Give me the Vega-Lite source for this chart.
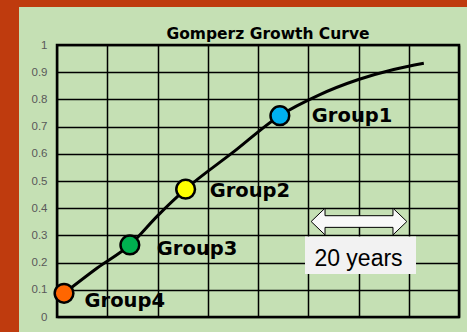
{
  "$schema": "https://vega.github.io/schema/vega-lite/v6.json",
  "width": 402,
  "height": 272,
  "autosize": "none",
  "padding": {"left": 57, "top": 45, "right": 8, "bottom": 15},
  "background": "#c5e0b4",
  "title": {"text": "Gomperz Growth Curve", "font": "DejaVu Sans", "fontSize": 15.5, "fontWeight": "bold", "color": "black", "anchor": "middle", "frame": "group", "dx": 10, "offset": -54, "baseline": "alphabetic"},
  "config": {
    "view": {"stroke": "black", "strokeWidth": 2.5}
  },
  "datasets": {
    "curve": [
      {"x": 1.4, "y": 0.087}, {"x": 8, "y": 0.18}, {"x": 14.5, "y": 0.265}, {"x": 20, "y": 0.372},
      {"x": 25.6, "y": 0.47}, {"x": 35, "y": 0.605}, {"x": 44.4, "y": 0.741}, {"x": 52, "y": 0.815},
      {"x": 60, "y": 0.873}, {"x": 67, "y": 0.91}, {"x": 73, "y": 0.933}
    ],
    "groups": [
      {"group": "Group1", "x": 44.35, "y": 0.74},
      {"group": "Group2", "x": 25.6, "y": 0.47},
      {"group": "Group3", "x": 14.5, "y": 0.265},
      {"group": "Group4", "x": 1.4, "y": 0.087}
    ]
  },
  "layer": [
    {
      "data": {"name": "curve"},
      "mark": {"type": "line", "interpolate": "monotone", "color": "black", "strokeWidth": 3},
      "encoding": {
        "x": {"field": "x", "type": "quantitative", "scale": {"domain": [0, 80], "nice": false, "zero": false},
          "axis": {"title": null, "values": [0, 10, 20, 30, 40, 50, 60, 70, 80], "labels": false, "ticks": false, "domain": false, "grid": true, "gridColor": "black", "gridWidth": 1.5, "gridOpacity": 1}},
        "y": {"field": "y", "type": "quantitative", "scale": {"domain": [0, 1], "nice": false, "zero": false},
          "axis": {"title": null, "values": [0, 0.1, 0.2, 0.3, 0.4, 0.5, 0.6, 0.7, 0.8, 0.9, 1], "format": ".1~f", "ticks": false, "domain": false, "grid": true, "gridColor": "black", "gridWidth": 1.5, "gridOpacity": 1, "labelFont": "Liberation Sans", "labelFontSize": 11.5, "labelColor": "#595959", "labelPadding": 10, "labelOverlap": false}}
      }
    },
    {
      "data": {"values": [{"part": "left"}]},
      "mark": {"type": "rect", "color": "#bf3b0e"},
      "encoding": {
        "x": {"datum": -20, "type": "quantitative", "scale": {"domain": [0, 80], "nice": false, "zero": false},
          "axis": {"title": null, "values": [0, 10, 20, 30, 40, 50, 60, 70, 80], "labels": false, "ticks": false, "domain": false, "grid": true, "gridColor": "black", "gridWidth": 1.5, "gridOpacity": 1}},
        "x2": {"datum": -7.56},
        "y": {"datum": -0.3, "type": "quantitative", "scale": {"domain": [0, 1], "nice": false, "zero": false},
          "axis": {"title": null, "values": [0, 0.1, 0.2, 0.3, 0.4, 0.5, 0.6, 0.7, 0.8, 0.9, 1], "format": ".1~f", "ticks": false, "domain": false, "grid": true, "gridColor": "black", "gridWidth": 1.5, "gridOpacity": 1, "labelFont": "Liberation Sans", "labelFontSize": 11.5, "labelColor": "#595959", "labelPadding": 10, "labelOverlap": false}},
        "y2": {"datum": 1.16544}
      }
    },
    {
      "data": {"values": [{"part": "top"}]},
      "mark": {"type": "rect", "color": "#bf3b0e"},
      "encoding": {
        "x": {"datum": -20, "type": "quantitative", "scale": {"domain": [0, 80], "nice": false, "zero": false},
          "axis": {"title": null, "values": [0, 10, 20, 30, 40, 50, 60, 70, 80], "labels": false, "ticks": false, "domain": false, "grid": true, "gridColor": "black", "gridWidth": 1.5, "gridOpacity": 1}},
        "x2": {"datum": 95},
        "y": {"datum": 1.14, "type": "quantitative", "scale": {"domain": [0, 1], "nice": false, "zero": false},
          "axis": {"title": null, "values": [0, 0.1, 0.2, 0.3, 0.4, 0.5, 0.6, 0.7, 0.8, 0.9, 1], "format": ".1~f", "ticks": false, "domain": false, "grid": true, "gridColor": "black", "gridWidth": 1.5, "gridOpacity": 1, "labelFont": "Liberation Sans", "labelFontSize": 11.5, "labelColor": "#595959", "labelPadding": 10, "labelOverlap": false}},
        "y2": {"datum": 1.16544}
      }
    },
    {
      "data": {"name": "groups"},
      "mark": {"type": "point", "shape": "circle", "filled": true, "size": 350, "stroke": "black", "strokeWidth": 2.5, "opacity": 1},
      "encoding": {
        "x": {"field": "x", "type": "quantitative", "scale": {"domain": [0, 80], "nice": false, "zero": false},
          "axis": {"title": null, "values": [0, 10, 20, 30, 40, 50, 60, 70, 80], "labels": false, "ticks": false, "domain": false, "grid": true, "gridColor": "black", "gridWidth": 1.5, "gridOpacity": 1}},
        "y": {"field": "y", "type": "quantitative", "scale": {"domain": [0, 1], "nice": false, "zero": false},
          "axis": {"title": null, "values": [0, 0.1, 0.2, 0.3, 0.4, 0.5, 0.6, 0.7, 0.8, 0.9, 1], "format": ".1~f", "ticks": false, "domain": false, "grid": true, "gridColor": "black", "gridWidth": 1.5, "gridOpacity": 1, "labelFont": "Liberation Sans", "labelFontSize": 11.5, "labelColor": "#595959", "labelPadding": 10, "labelOverlap": false}},
        "fill": {"field": "group", "type": "nominal", "scale": {"domain": ["Group1", "Group2", "Group3", "Group4"], "range": ["#00b0f0", "#ffff00", "#00b050", "#ff6600"]}, "legend": null}
      }
    },
    {
      "data": {"name": "groups"},
      "transform": [{"filter": "datum.group == 'Group1'"}],
      "mark": {"type": "text", "align": "left", "baseline": "alphabetic", "dx": 32, "dy": 6, "font": "DejaVu Sans", "fontWeight": "bold", "fontSize": 19.5, "color": "black"},
      "encoding": {
        "x": {"field": "x", "type": "quantitative", "scale": {"domain": [0, 80], "nice": false, "zero": false},
          "axis": {"title": null, "values": [0, 10, 20, 30, 40, 50, 60, 70, 80], "labels": false, "ticks": false, "domain": false, "grid": true, "gridColor": "black", "gridWidth": 1.5, "gridOpacity": 1}},
        "y": {"field": "y", "type": "quantitative", "scale": {"domain": [0, 1], "nice": false, "zero": false},
          "axis": {"title": null, "values": [0, 0.1, 0.2, 0.3, 0.4, 0.5, 0.6, 0.7, 0.8, 0.9, 1], "format": ".1~f", "ticks": false, "domain": false, "grid": true, "gridColor": "black", "gridWidth": 1.5, "gridOpacity": 1, "labelFont": "Liberation Sans", "labelFontSize": 11.5, "labelColor": "#595959", "labelPadding": 10, "labelOverlap": false}},
        "text": {"field": "group"}
      }
    },
    {
      "data": {"name": "groups"},
      "transform": [{"filter": "datum.group == 'Group2'"}],
      "mark": {"type": "text", "align": "left", "baseline": "alphabetic", "dx": 24, "dy": 8, "font": "DejaVu Sans", "fontWeight": "bold", "fontSize": 19.5, "color": "black"},
      "encoding": {
        "x": {"field": "x", "type": "quantitative", "scale": {"domain": [0, 80], "nice": false, "zero": false},
          "axis": {"title": null, "values": [0, 10, 20, 30, 40, 50, 60, 70, 80], "labels": false, "ticks": false, "domain": false, "grid": true, "gridColor": "black", "gridWidth": 1.5, "gridOpacity": 1}},
        "y": {"field": "y", "type": "quantitative", "scale": {"domain": [0, 1], "nice": false, "zero": false},
          "axis": {"title": null, "values": [0, 0.1, 0.2, 0.3, 0.4, 0.5, 0.6, 0.7, 0.8, 0.9, 1], "format": ".1~f", "ticks": false, "domain": false, "grid": true, "gridColor": "black", "gridWidth": 1.5, "gridOpacity": 1, "labelFont": "Liberation Sans", "labelFontSize": 11.5, "labelColor": "#595959", "labelPadding": 10, "labelOverlap": false}},
        "text": {"field": "group"}
      }
    },
    {
      "data": {"name": "groups"},
      "transform": [{"filter": "datum.group == 'Group3'"}],
      "mark": {"type": "text", "align": "left", "baseline": "alphabetic", "dx": 27, "dy": 10, "font": "DejaVu Sans", "fontWeight": "bold", "fontSize": 19.5, "color": "black"},
      "encoding": {
        "x": {"field": "x", "type": "quantitative", "scale": {"domain": [0, 80], "nice": false, "zero": false},
          "axis": {"title": null, "values": [0, 10, 20, 30, 40, 50, 60, 70, 80], "labels": false, "ticks": false, "domain": false, "grid": true, "gridColor": "black", "gridWidth": 1.5, "gridOpacity": 1}},
        "y": {"field": "y", "type": "quantitative", "scale": {"domain": [0, 1], "nice": false, "zero": false},
          "axis": {"title": null, "values": [0, 0.1, 0.2, 0.3, 0.4, 0.5, 0.6, 0.7, 0.8, 0.9, 1], "format": ".1~f", "ticks": false, "domain": false, "grid": true, "gridColor": "black", "gridWidth": 1.5, "gridOpacity": 1, "labelFont": "Liberation Sans", "labelFontSize": 11.5, "labelColor": "#595959", "labelPadding": 10, "labelOverlap": false}},
        "text": {"field": "group"}
      }
    },
    {
      "data": {"name": "groups"},
      "transform": [{"filter": "datum.group == 'Group4'"}],
      "mark": {"type": "text", "align": "left", "baseline": "alphabetic", "dx": 20.5, "dy": 14, "font": "DejaVu Sans", "fontWeight": "bold", "fontSize": 19.5, "color": "black"},
      "encoding": {
        "x": {"field": "x", "type": "quantitative", "scale": {"domain": [0, 80], "nice": false, "zero": false},
          "axis": {"title": null, "values": [0, 10, 20, 30, 40, 50, 60, 70, 80], "labels": false, "ticks": false, "domain": false, "grid": true, "gridColor": "black", "gridWidth": 1.5, "gridOpacity": 1}},
        "y": {"field": "y", "type": "quantitative", "scale": {"domain": [0, 1], "nice": false, "zero": false},
          "axis": {"title": null, "values": [0, 0.1, 0.2, 0.3, 0.4, 0.5, 0.6, 0.7, 0.8, 0.9, 1], "format": ".1~f", "ticks": false, "domain": false, "grid": true, "gridColor": "black", "gridWidth": 1.5, "gridOpacity": 1, "labelFont": "Liberation Sans", "labelFontSize": 11.5, "labelColor": "#595959", "labelPadding": 10, "labelOverlap": false}},
        "text": {"field": "group"}
      }
    },
    {
      "data": {"values": [{"part": "arrow"}]},
      "mark": {"type": "point", "filled": true, "fill": "#f8f8f8", "stroke": "black", "strokeWidth": 1, "opacity": 1, "size": 9158,
        "shape": "M-1,0L-0.71,-0.279L-0.71,-0.122L0.71,-0.122L0.71,-0.279L1,0L0.71,0.279L0.71,0.122L-0.71,0.122L-0.71,0.279Z"},
      "encoding": {
        "x": {"datum": 60.1, "type": "quantitative", "scale": {"domain": [0, 80], "nice": false, "zero": false},
          "axis": {"title": null, "values": [0, 10, 20, 30, 40, 50, 60, 70, 80], "labels": false, "ticks": false, "domain": false, "grid": true, "gridColor": "black", "gridWidth": 1.5, "gridOpacity": 1}},
        "y": {"datum": 0.351, "type": "quantitative", "scale": {"domain": [0, 1], "nice": false, "zero": false},
          "axis": {"title": null, "values": [0, 0.1, 0.2, 0.3, 0.4, 0.5, 0.6, 0.7, 0.8, 0.9, 1], "format": ".1~f", "ticks": false, "domain": false, "grid": true, "gridColor": "black", "gridWidth": 1.5, "gridOpacity": 1, "labelFont": "Liberation Sans", "labelFontSize": 11.5, "labelColor": "#595959", "labelPadding": 10, "labelOverlap": false}}
      }
    },
    {
      "data": {"values": [{"part": "box"}]},
      "mark": {"type": "point", "filled": true, "fill": "#f2f2f2", "strokeWidth": 0, "opacity": 1, "size": 12321,
        "shape": "M-1,-0.336L1,-0.336L1,0.336L-1,0.336Z"},
      "encoding": {
        "x": {"datum": 60.4, "type": "quantitative", "scale": {"domain": [0, 80], "nice": false, "zero": false},
          "axis": {"title": null, "values": [0, 10, 20, 30, 40, 50, 60, 70, 80], "labels": false, "ticks": false, "domain": false, "grid": true, "gridColor": "black", "gridWidth": 1.5, "gridOpacity": 1}},
        "y": {"datum": 0.227, "type": "quantitative", "scale": {"domain": [0, 1], "nice": false, "zero": false},
          "axis": {"title": null, "values": [0, 0.1, 0.2, 0.3, 0.4, 0.5, 0.6, 0.7, 0.8, 0.9, 1], "format": ".1~f", "ticks": false, "domain": false, "grid": true, "gridColor": "black", "gridWidth": 1.5, "gridOpacity": 1, "labelFont": "Liberation Sans", "labelFontSize": 11.5, "labelColor": "#595959", "labelPadding": 10, "labelOverlap": false}}
      }
    },
    {
      "data": {"values": [{"label": "20 years"}]},
      "mark": {"type": "text", "align": "center", "baseline": "alphabetic", "font": "Liberation Sans", "fontSize": 23, "color": "black"},
      "encoding": {
        "x": {"datum": 60.0, "type": "quantitative", "scale": {"domain": [0, 80], "nice": false, "zero": false},
          "axis": {"title": null, "values": [0, 10, 20, 30, 40, 50, 60, 70, 80], "labels": false, "ticks": false, "domain": false, "grid": true, "gridColor": "black", "gridWidth": 1.5, "gridOpacity": 1}},
        "y": {"datum": 0.1875, "type": "quantitative", "scale": {"domain": [0, 1], "nice": false, "zero": false},
          "axis": {"title": null, "values": [0, 0.1, 0.2, 0.3, 0.4, 0.5, 0.6, 0.7, 0.8, 0.9, 1], "format": ".1~f", "ticks": false, "domain": false, "grid": true, "gridColor": "black", "gridWidth": 1.5, "gridOpacity": 1, "labelFont": "Liberation Sans", "labelFontSize": 11.5, "labelColor": "#595959", "labelPadding": 10, "labelOverlap": false}},
        "text": {"field": "label"}
      }
    }
  ]
}
